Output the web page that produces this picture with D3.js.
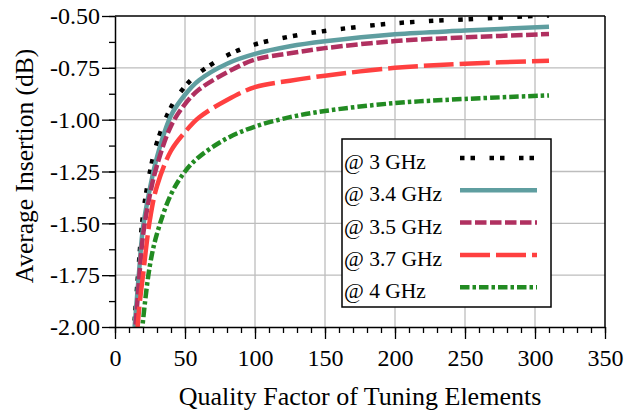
<!DOCTYPE html>
<html>
<head>
<meta charset="utf-8">
<script src="https://cdn.jsdelivr.net/npm/d3@7"></script>
<style>
  body { margin: 0; background: #fff; }
  svg { display: block; font-family: "Liberation Serif", "Times New Roman", serif; }
</style>
</head>
<body>
<div id="chart"></div>
<script>
// Quality factor sample points (x axis)
const qValues = [14, 17, 20, 25, 30, 40, 50, 60, 80, 100, 125, 150, 200, 250, 310];

// Average insertion (dB) for each frequency
const ins3GHz  = [-1.97, -1.70, -1.46, -1.25, -1.11, -0.94, -0.84, -0.775, -0.69, -0.637, -0.599, -0.572, -0.535, -0.516, -0.497];
const ins34GHz = [-2.00, -1.75, -1.52, -1.33, -1.18, -0.98, -0.88, -0.81, -0.73, -0.683, -0.646, -0.622, -0.588, -0.570, -0.552];
const ins35GHz = [-2.06, -1.79, -1.56, -1.36, -1.22, -1.03, -0.925, -0.855, -0.772, -0.71, -0.68, -0.655, -0.621, -0.603, -0.587];
const ins37GHz = [-2.22, -1.93, -1.75, -1.48, -1.32, -1.15, -1.06, -0.99, -0.905, -0.843, -0.812, -0.788, -0.750, -0.730, -0.716];
const ins4GHz  = [-2.50, -2.20, -1.97, -1.70, -1.55, -1.36, -1.25, -1.18, -1.09, -1.033, -0.988, -0.958, -0.92, -0.90, -0.883];

const seriesNames = ["@ 3 GHz", "@ 3.4 GHz", "@ 3.5 GHz", "@ 3.7 GHz", "@ 4 GHz"];
const seriesValues = [ins3GHz, ins34GHz, ins35GHz, ins37GHz, ins4GHz];
const seriesColors = ["#000000", "#5f9ea0", "#b03060", "#ff4040", "#228b22"];
const seriesDashes = ["4.5,6,4.5,14.5", null, "11.5,3.5", "30,6", "9.5,3,3.5,3"];

const xTicks = [0, 50, 100, 150, 200, 250, 300, 350];
const yTicks = [-2.00, -1.75, -1.50, -1.25, -1.00, -0.75, -0.50];

// Layout
const W = 643, H = 416;
const margin = {top: 16, right: 38, bottom: 89, left: 115};
const width = W - margin.left - margin.right;
const height = H - margin.top - margin.bottom;

const svg = d3.select("#chart")
    .append("svg")
    .attr("width", W)
    .attr("height", H);

const g = svg.append("g")
    .attr("transform", "translate(" + margin.left + "," + margin.top + ")");

// Scales
const xScale = d3.scaleLinear().domain([0, 350]).range([0, width]);
const yScale = d3.scaleLinear().domain([-2.0, -0.5]).range([height, 0]);

// Grid lines
g.append("g")
    .selectAll("line")
    .data(xTicks.slice(1, -1))
    .join("line")
    .attr("x1", d => xScale(d)).attr("x2", d => xScale(d))
    .attr("y1", 0).attr("y2", height)
    .attr("stroke", "#bdbdbd")
    .attr("stroke-width", 1.3);

g.append("g")
    .selectAll("line")
    .data(yTicks.slice(1, -1))
    .join("line")
    .attr("x1", 0).attr("x2", width)
    .attr("y1", d => yScale(d)).attr("y2", d => yScale(d))
    .attr("stroke", "#bdbdbd")
    .attr("stroke-width", 1.3);

// Clip area for the curves
svg.append("defs").append("clipPath")
    .attr("id", "plot-clip")
    .append("rect")
    .attr("width", width)
    .attr("height", height);

// Curves
const line = d3.line()
    .x(d => xScale(d[0]))
    .y(d => yScale(d[1]))
    .curve(d3.curveCatmullRom.alpha(0.5));

const curves = g.append("g").attr("clip-path", "url(#plot-clip)");

seriesValues.forEach((vals, i) => {
    curves.append("path")
        .datum(qValues.map((q, j) => [q, vals[j]]))
        .attr("d", line)
        .attr("fill", "none")
        .attr("stroke", seriesColors[i])
        .attr("stroke-width", 4.5)
        .attr("stroke-dasharray", seriesDashes[i]);
});

// Minor ticks
g.append("g")
    .attr("transform", "translate(0," + height + ")")
    .call(d3.axisBottom(xScale).tickValues(d3.range(0, 351, 10)).tickSize(6).tickFormat(""))
    .call(a => a.select(".domain").remove())
    .selectAll("line").attr("stroke-width", 1.3);

g.append("g")
    .call(d3.axisLeft(yScale).tickValues(d3.range(-2.0, -0.49, 0.125)).tickSize(6).tickFormat(""))
    .call(a => a.select(".domain").remove())
    .selectAll("line").attr("stroke-width", 1.3);

// Major axes
const xAxis = g.append("g")
    .attr("transform", "translate(0," + height + ")")
    .call(d3.axisBottom(xScale).tickValues(xTicks).tickSize(12).tickSizeOuter(0).tickPadding(10));

const yAxis = g.append("g")
    .call(d3.axisLeft(yScale).tickValues(yTicks).tickSize(13).tickSizeOuter(0).tickPadding(2)
        .tickFormat(d => d.toFixed(2)));

[xAxis, yAxis].forEach(a => {
    a.attr("font-family", null);
    a.selectAll("text")
        .attr("fill", "#000")
        .style("font-family", "'Liberation Serif', serif")
        .style("font-size", "24px");
    a.selectAll("line").attr("stroke-width", 1.3);
    a.select(".domain").attr("stroke-width", 1.5);
});

// Top and right frame
g.append("line")
    .attr("x1", 0).attr("x2", width).attr("y1", 0).attr("y2", 0)
    .attr("stroke", "#000").attr("stroke-width", 1.5);
g.append("line")
    .attr("x1", width).attr("x2", width).attr("y1", 0).attr("y2", height)
    .attr("stroke", "#000").attr("stroke-width", 1.5);

// Axis titles
svg.append("text")
    .attr("text-anchor", "middle")
    .attr("x", margin.left + width / 2)
    .attr("y", 405)
    .style("font-size", "26px")
    .text("Quality Factor of Tuning Elements");

svg.append("text")
    .attr("text-anchor", "middle")
    .attr("transform", "rotate(-90)")
    .attr("x", -166)
    .attr("y", 33)
    .style("font-size", "25.5px")
    .text("Average Insertion (dB)");

// Legend
const legend = svg.append("g");
legend.append("rect")
    .attr("x", 342).attr("y", 139)
    .attr("width", 209).attr("height", 168)
    .attr("fill", "#fff")
    .attr("stroke", "#000")
    .attr("stroke-width", 1.5);

seriesNames.forEach((name, i) => {
    const cy = 158 + i * 32.3;
    legend.append("text")
        .attr("x", 344)
        .attr("y", cy + 11)
        .style("font-size", "21.5px")
        .text(name);
    legend.append("line")
        .attr("x1", 460).attr("x2", 537)
        .attr("y1", cy).attr("y2", cy)
        .attr("stroke", seriesColors[i])
        .attr("stroke-width", 4.5)
        .attr("stroke-dasharray", seriesDashes[i]);
});
</script>
</body>
</html>
